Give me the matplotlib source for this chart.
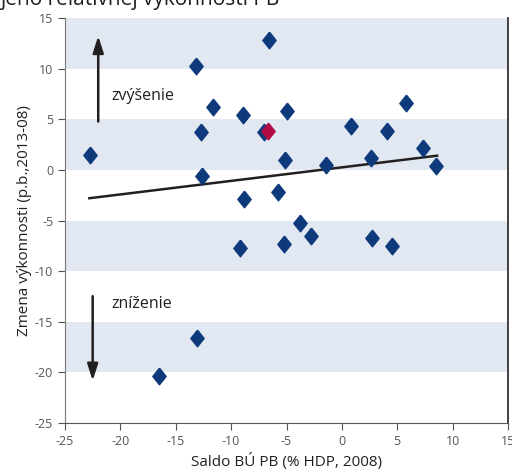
import matplotlib.pyplot as plt

# ---------------------------------------------------------------------------
# Data
# ---------------------------------------------------------------------------
saldo = [-22.7, -13.2, -6.6, -12.7, -11.6, -8.9, -12.6, -7.0, -5.0, -5.1,
         -8.8, -5.8, -1.4, 0.8, 4.1, 5.8, 2.6, 7.3, 8.5, -3.8,
         -2.8, -9.2, -5.2, 2.7, 4.5, -13.1, -16.5]
zmena = [1.5, 10.3, 12.8, 3.7, 6.2, 5.4, -0.6, 3.7, 5.8, 1.0,
         -2.9, -2.2, 0.5, 4.3, 3.8, 6.6, 1.2, 2.2, 0.4, -5.2,
         -6.5, -7.7, -7.3, -6.7, -7.5, -16.6, -20.4]
sk_saldo = [-6.7]
sk_zmena = [3.8]

trend_x = [-22.8, 8.6]
trend_y = [-2.8, 1.4]

bands = [(10, 15), (0, 5), (-10, -5), (-20, -15)]
ticks = [-25, -20, -15, -10, -5, 0, 5, 10, 15]

plt.rcParams["font.family"] = ["Open Sans", "DejaVu Sans"]
plt.rcParams["axes.unicode_minus"] = False

fig = plt.figure(figsize=(5.12, 4.73), dpi=100)
ax = fig.add_axes([65 / 512, 1 - 423 / 473, 443 / 512, 405 / 473])

for lo, hi in bands:
    ax.axhspan(lo, hi, color="#e1e8f2", lw=0, zorder=0)

diamond = [(0, 1), (0.8, 0), (0, -1), (-0.8, 0), (0, 1)]
ax.plot(saldo, zmena, ls="none", marker=diamond, ms=12,
        color="#0e3a7c", zorder=3)
ax.plot(sk_saldo, sk_zmena, ls="none", marker=diamond, ms=12,
        color="#b30b45", zorder=4)
ax.plot(trend_x, trend_y, color="#231f20", lw=1.8, zorder=2)

# arrows with labels
arrow = dict(arrowstyle="-|>,head_length=1.0,head_width=0.32",
             color="#231f20", lw=1.8)
ax.annotate("", xy=(-22.0, 13.5), xytext=(-22.0, 4.5), arrowprops=arrow)
ax.annotate("", xy=(-22.5, -21.1), xytext=(-22.5, -12.2), arrowprops=arrow)
ax.text(-20.8, 7.3, "zvýšenie", fontsize=11.5, color="#231f20", va="center")
ax.text(-20.8, -13.2, "zníženie", fontsize=11.5, color="#231f20", va="center")

ax.set_xlim(-25, 15)
ax.set_ylim(-25, 15)
ax.set_xticks(ticks)
ax.set_yticks(ticks)
ax.tick_params(labelsize=9, labelcolor="#555555", color="#555555",
               length=5, width=0.8)

ax.spines["top"].set_visible(False)
ax.spines["left"].set_color("#777777")
ax.spines["bottom"].set_color("#555555")
ax.spines["right"].set_color("#231f20")
ax.spines["right"].set_linewidth(1.2)

ax.set_xlabel("Saldo BÚ PB (% HDP, 2008)", fontsize=11, color="#231f20",
              labelpad=4)
ax.set_ylabel("Zmena výkonnosti (p.b.,2013-08)", fontsize=11,
              color="#231f20", labelpad=2)

# title cut off at the top edge, as in the source image
fig.text(0.0, 1.0, "jeho relatívnej výkonnosti PB", fontsize=15,
         color="#231f20", va="center", ha="left")

fig.savefig("out.png", dpi=100)
